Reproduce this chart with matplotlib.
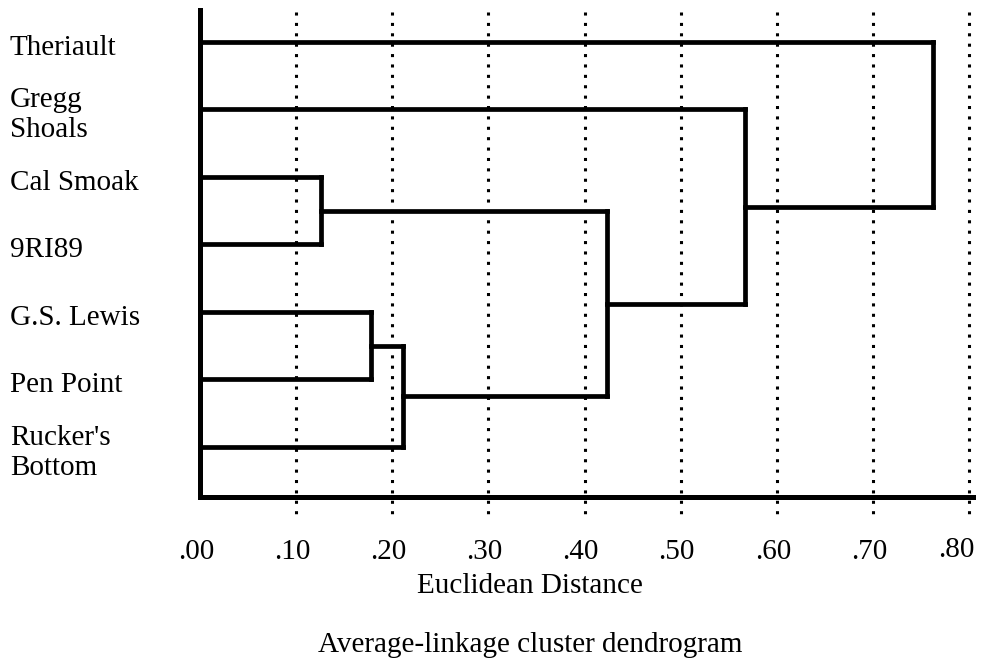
import matplotlib
matplotlib.use("Agg")
import matplotlib.pyplot as plt
from matplotlib.transforms import ScaledTranslation

# leaves, top to bottom
leaf_labels = ["Theriault", "Gregg\nShoals", "Cal Smoak", "9RI89",
               "G.S. Lewis", "Pen Point", "Rucker's\nBottom"]

# merges: node ids 0-6 are leaves, each merge creates node 7, 8, ...
merge_left = [2, 4, 8, 7, 1, 0]
merge_right = [3, 5, 6, 9, 10, 11]
merge_dist = [0.126, 0.178, 0.211, 0.423, 0.567, 0.762]

tick_values = [0.0, 0.1, 0.2, 0.3, 0.4, 0.5, 0.6, 0.7, 0.8]
tick_labels = [".00", ".10", ".20", ".30", ".40", ".50", ".60", ".70", ".80"]

plt.rcParams['font.family'] = ['Liberation Serif', 'DejaVu Serif']
FS = 21

W, H = 984, 660
fig = plt.figure(figsize=(W / 100, H / 100), dpi=100)
ax = fig.add_axes([200 / W, 1 - 497 / H, (973 - 200) / W, (497 - 10) / H])

ax.set_xlim(0, 0.804)
ax.set_ylim(6.741, -0.474)

# dotted grid lines, running a bit past the axis line
ax.vlines(tick_values[1:], -0.444, 7.052, colors='black', linewidth=2.2,
          linestyles=(0, (1.0, 2.4)), clip_on=False, zorder=1)

# dendrogram
node_x = {i: 0.0 for i in range(len(leaf_labels))}
node_y = {i: float(i) for i in range(len(leaf_labels))}
lw = 3.4
for k, (a, b, d) in enumerate(zip(merge_left, merge_right, merge_dist)):
    new = len(leaf_labels) + k
    for c in (a, b):
        ax.plot([node_x[c], d], [node_y[c], node_y[c]], color='black',
                linewidth=lw, solid_capstyle='projecting', zorder=3)
    ax.plot([d, d], [node_y[a], node_y[b]], color='black', linewidth=lw,
            solid_capstyle='projecting', zorder=3)
    node_x[new] = d
    node_y[new] = (node_y[a] + node_y[b]) / 2

for s in ['top', 'right']:
    ax.spines[s].set_visible(False)
for s in ['left', 'bottom']:
    ax.spines[s].set_linewidth(3.6)
    ax.spines[s].set_zorder(4)

ax.set_yticks([])
ax.set_xticks(tick_values)
ax.set_xticklabels(tick_labels, fontsize=FS)
ax.tick_params(axis='x', length=0, pad=30)

# labels sit a little left of their grid lines, the last one flush right
shift = ScaledTranslation(-4 / 100, 0, fig.dpi_scale_trans)
xtl = ax.get_xticklabels()
for t in xtl[:-1]:
    t.set_transform(t.get_transform() + shift)
xtl[-1].set_ha('right')
xtl[-1].set_transform(xtl[-1].get_transform()
                      + ScaledTranslation(5 / 100, 2 / 100, fig.dpi_scale_trans))

for i, lab in enumerate(leaf_labels):
    ax.annotate(lab, xy=(10 / W, i), xycoords=('figure fraction', 'data'),
                xytext=(0, -4), textcoords='offset points',
                ha='left', va='center', fontsize=FS, linespacing=1.2)

fig.text(530 / W, 1 - 586 / H, "Euclidean Distance", ha='center', va='center',
         fontsize=FS)
fig.text(530 / W, 1 - 645 / H, "Average-linkage cluster dendrogram",
         ha='center', va='center', fontsize=FS)

fig.savefig("out.png", dpi=100)
